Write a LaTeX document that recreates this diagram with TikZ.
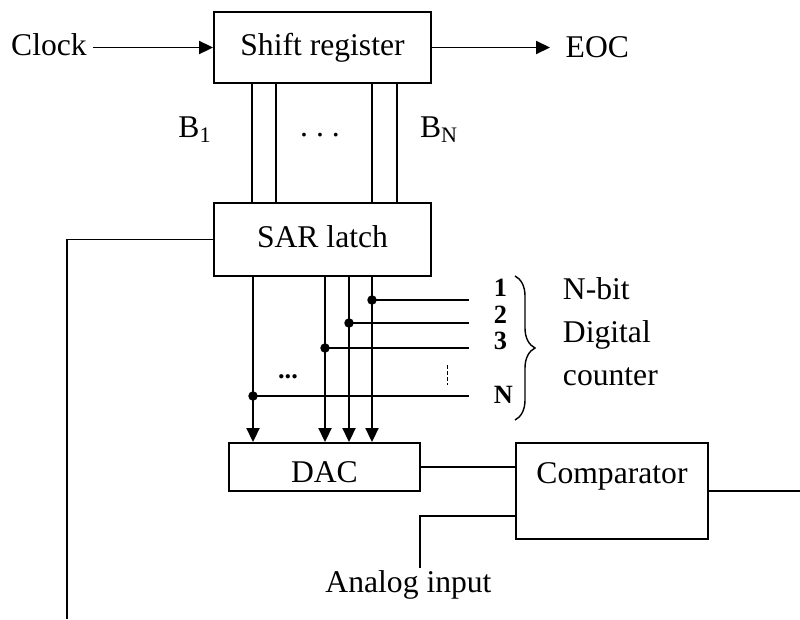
\documentclass[tikz,border=0pt]{standalone}
\usepackage{fontspec}
\setmainfont{Liberation Serif}
\usetikzlibrary{
  positioning,
  arrows.meta,
  calc,
  decorations.pathreplacing
}

\begin{document}
\begin{tikzpicture}[
  x=0.02cm, y=-0.02cm,
  font=\fontsize{18}{24}\selectfont,
  line width=1.1pt,
  blockbox/.style={
    rectangle,
    draw=black,
    text height=0.45cm,
    text depth=0.14cm,
    inner sep=1pt
  },
  txt/.style={
    text height=0.45cm,
    text depth=0.14cm,
    inner sep=1pt
  },
  bitlbl/.style={
    font=\fontsize{15}{16}\selectfont\bfseries,
    inner sep=0pt,
    anchor=base west
  },
  sig/.style={
    -{Triangle[length=0.28cm, width=0.26cm]}
  },
  tap/.style={
    circle,
    fill=black,
    inner sep=0pt,
    minimum size=0.19cm
  }
]
\useasboundingbox (0,0) rectangle (800,619);

% Row 1: Shift register with clock in and EOC out (y = 47.5)
\node[blockbox, minimum width=4.34cm, minimum height=1.42cm] (sr) at (322.5,47.5) {Shift register};
\node[txt] (clk) at (49,47.5) {Clock};
\node[txt, anchor=west] (eoc) at (563,50) {EOC};

% Row 2: SAR latch (y = 239.5)
\node[blockbox, minimum width=4.34cm, minimum height=1.46cm] (sar) at (322.5,239.5) {SAR latch};

% Row 3: DAC, Comparator, analog input
\node[blockbox, minimum width=3.83cm, minimum height=0.96cm, text height=0.6cm, text depth=0cm] (dac) at (324.4,467) {DAC};
\node[blockbox, minimum width=3.84cm, minimum height=1.92cm, text depth=0.77cm] (cmp) at (612,491) {Comparator};
\node[txt] (ain) at (408.5,585) {Analog input};

% Bit lines B1 ... BN
\node[txt] (b1) at (195,130) {B\textsubscript{1}};
\node[txt] (bn) at (439,130) {B\textsubscript{N}};
\node[txt] (bdots) at (320,129) {.\ .\ .};

% Counter inputs
\coordinate (c1) at (469,300);
\coordinate (c2) at (469,323);
\coordinate (c3) at (469,348);
\coordinate (cn) at (469,396);
\node[bitlbl] (l1) at (493,296) {1};
\node[bitlbl] (l2) at (493,323) {2};
\node[bitlbl] (l3) at (493,349) {3};
\node[bitlbl] (ln) at (493,403) {N};
\node[bitlbl, anchor=base] (ldots) at (288,378) {...};
\node[align=left, anchor=west, inner sep=0pt, font=\fontsize{18}{24.4}\selectfont] (cnt) at (562,332) {N-bit\\Digital\\counter};

% Connections
\draw[sig] ([xshift=2pt]clk.east) -- (sr.west);
\draw[sig, shorten >=0.26cm] (sr.east) -- (sr.east -| eoc.west);
\foreach \dx in {-70.5,-46.5,49.5,74.5}
  \draw ($(sr.south)+(\dx,0)$) -- ($(sar.north)+(\dx,0)$);
\foreach \dx/\n in {-69.5/1,2.5/2,26.5/3,49.5/4}
  \draw[sig] ($(sar.south)+(\dx,0)$) coordinate (a\n) -- (a\n |- dac.north);
\foreach \c/\a in {c1/a4,c2/a3,c3/a2,cn/a1}
  \draw (\c) -- (\c -| \a) node[tap]{};
\draw[line width=0.5pt, dash pattern=on 2pt off 1.5pt] (447,365) -- (447,385);
\draw[line width=0.8pt, decorate, decoration={brace, amplitude=0.4cm}] (515,276) -- (515,420);

\coordinate (fb) at (67,619);
\coordinate (out) at (800,491);
\draw (sar.west) -| (fb);
\draw (dac.east) -- (dac.east -| cmp.west);
\draw (cmp.east) -- (out);
\draw ($(cmp.west)+(0,25)$) -| ($(ain.north)+(11.5,0)$);

\end{tikzpicture}
\end{document}
